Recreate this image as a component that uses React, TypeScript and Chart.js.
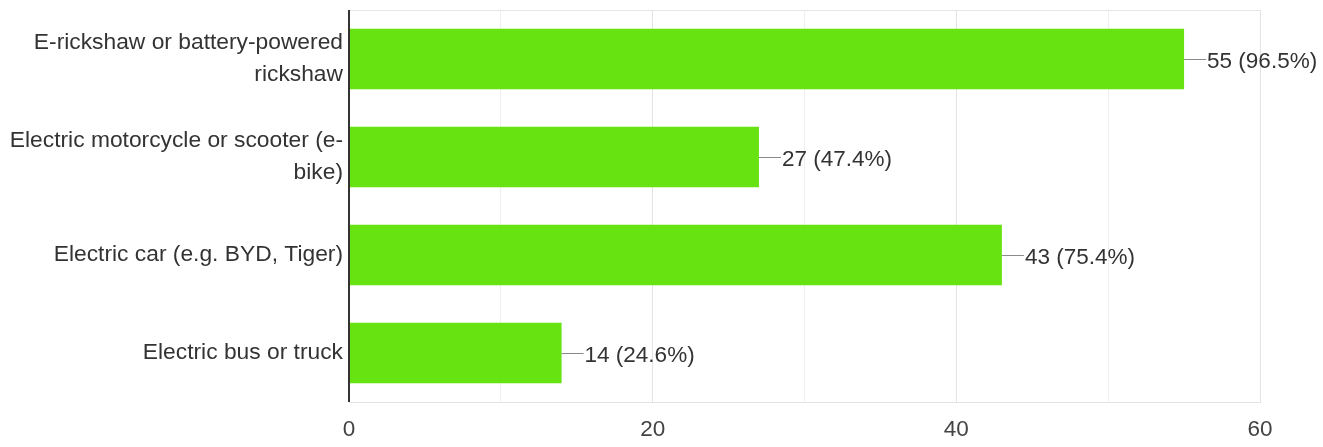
import React, { useEffect, useRef } from "react";
import { Chart, registerables } from "chart.js";

Chart.register(...registerables);

const categories: (string | string[])[] = [
  ["E-rickshaw or battery-powered", "rickshaw"],
  ["Electric motorcycle or scooter (e-", "bike)"],
  "Electric car (e.g. BYD, Tiger)",
  "Electric bus or truck",
];
const counts: number[] = [55, 27, 43, 14];
const respondents = 57;
const xTicks: number[] = [0, 10, 20, 30, 40, 50, 60];

const FONT = "'Liberation Sans', Arial, sans-serif";
const FS = 22.5;

export default function App() {
  const ref = useRef<HTMLCanvasElement | null>(null);
  useEffect(() => {
    if (!ref.current) return;
    const valueLabels = {
      id: "valueLabels",
      afterDatasetsDraw(chart: any) {
        const ctx = chart.ctx;
        const meta = chart.getDatasetMeta(0);
        ctx.save();
        meta.data.forEach((bar: any, i: number) => {
          const v = counts[i];
          const pct = ((v / respondents) * 100).toFixed(1);
          ctx.strokeStyle = "#8a8a8a";
          ctx.lineWidth = 1;
          ctx.beginPath();
          ctx.moveTo(bar.x, Math.round(bar.y) + 0.5);
          ctx.lineTo(bar.x + 22, Math.round(bar.y) + 0.5);
          ctx.stroke();
          ctx.fillStyle = "#333333";
          ctx.font = `${FS}px ${FONT}`;
          ctx.textAlign = "left";
          ctx.textBaseline = "middle";
          ctx.fillText(`${v} (${pct}%)`, bar.x + 23, bar.y + 3);
        });
        ctx.restore();
      },
    };
    const frame = {
      id: "frame",
      beforeDatasetsDraw(chart: any) {
        const { ctx, chartArea } = chart;
        ctx.save();
        ctx.strokeStyle = "#e6e6e6";
        ctx.lineWidth = 1;
        ctx.beginPath();
        ctx.moveTo(chartArea.left, chartArea.top + 0.5);
        ctx.lineTo(chartArea.right, chartArea.top + 0.5);
        ctx.stroke();
        ctx.restore();
      },
      afterDatasetsDraw(chart: any) {
        const { ctx, chartArea } = chart;
        ctx.save();
        ctx.strokeStyle = "#333333";
        ctx.lineWidth = 2;
        ctx.beginPath();
        ctx.moveTo(chartArea.left, chartArea.top);
        ctx.lineTo(chartArea.left, chartArea.bottom);
        ctx.stroke();
        ctx.restore();
      },
    };
    const chart = new Chart(ref.current, {
      type: "bar",
      data: {
        labels: categories as any,
        datasets: [
          {
            data: counts,
            backgroundColor: "#66e311",
            borderWidth: 0,
            categoryPercentage: 1,
            barPercentage: 0.615,
          },
        ],
      },
      options: {
        indexAxis: "y",
        animation: false,
        responsive: false,
        maintainAspectRatio: false,
        layout: { padding: { top: 10, right: 63, left: 0, bottom: 0 } },
        plugins: { legend: { display: false }, tooltip: { enabled: false } },
        scales: {
          x: {
            min: 0,
            max: 60,
            afterBuildTicks(scale: any) {
              scale.ticks = xTicks.map((v) => ({ value: v }));
            },
            afterFit(scale: any) {
              scale.height = 45;
              scale.paddingLeft = 0;
              scale.paddingRight = 0;
            },
            grid: {
              color: (c: any) =>
                c.tick && c.tick.value % 20 === 0 ? "#e3e3e3" : "#efefef",
              drawTicks: false,
              lineWidth: 1,
            },
            border: { display: true, color: "#e3e3e3" },
            ticks: {
              padding: 14,
              color: "#444444",
              font: { family: FONT, size: FS },
              callback: (v: any) => (Number(v) % 20 === 0 ? String(v) : ""),
            },
          },
          y: {
            afterFit(scale: any) {
              scale.width = 349;
              scale.paddingTop = 0;
              scale.paddingBottom = 0;
            },
            grid: { display: false, drawTicks: false },
            border: { display: false },
            ticks: {
              padding: 6,
              color: "#333333",
              font: { family: FONT, size: 22.8, lineHeight: 1.4 },
            },
          },
        },
      },
      plugins: [frame, valueLabels],
    });
    return () => chart.destroy();
  }, []);
  return (
    <div style={{ position: "fixed", left: 0, top: 0, width: 1323, height: 447, background: "#fff" }}>
      <canvas ref={ref} width={1323} height={447} style={{ width: 1323, height: 447 }} />
    </div>
  );
}
